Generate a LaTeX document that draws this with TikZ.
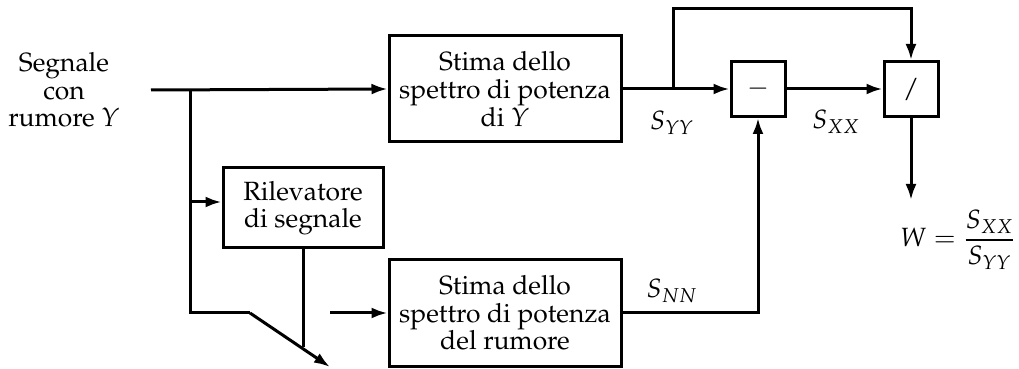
\documentclass[tikz,border=0pt]{standalone}
\usepackage[T1]{fontenc}
\usepackage{mathpazo}
\usetikzlibrary{arrows.meta}
\begin{document}
\begin{tikzpicture}[x=0.5pt,y=-0.5pt,
  every node/.style={font=\fontsize{13.2}{13.8}\selectfont},
  blk/.style={draw,line width=1.5pt,align=center,inner sep=0pt},
  lbl/.style={inner sep=0pt},
  conn/.style={line width=1.5pt},
  arr/.style={conn,-{Latex[length=8pt,width=5.5pt]}}]
\useasboundingbox (0,0) rectangle (1019,369);
\node[lbl,align=center] (in) at (64,90) {Segnale\\con\\rumore $Y$};
\node[blk,minimum width=116pt,minimum height=53pt] (b1) at (505,89) {Stima dello\\spettro di potenza\\di $Y$};
\node[blk,minimum width=27pt,minimum height=27.5pt] (mi) at (758,89) {$-$};
\node[blk,minimum width=27pt,minimum height=27.5pt] (dv) at (911,89) {$/$};
\node[blk,minimum width=80pt,minimum height=40pt] (det) at (303,208) {Rilevatore\\di segnale};
\node[blk,minimum width=116pt,minimum height=53pt] (b3) at (505,313) {Stima dello\\spettro di potenza\\del rumore};
\node[lbl] (syy) at (672,123) {$S_{YY}$};
\node[lbl] (sxx) at (836,122) {$S_{XX}$};
\node[lbl] (snn) at (672,291) {$S_{NN}$};
\node[lbl,anchor=east] (w) at (1016,240) {$W=\displaystyle\frac{S_{XX}}{S_{YY}}$};
\coordinate (s0) at (151,90);
\coordinate (j1) at (190,90);
\coordinate (j2) at (190,313);
\coordinate (sw0) at (250,313);
\coordinate (sw1) at (330,367);
\coordinate (dt) at (303,347);
\coordinate (n0) at (330,313);
\coordinate (t0) at (673,89);
\coordinate (wt) at (911,200);
\draw[arr] (s0) -- (b1.west);
\draw[conn] (j1) -- (j2) -- (sw0);
\draw[arr] (sw0) -- (sw1);
\draw[arr] (j1 |- det.west) ++(0,-6) coordinate (dj) -- (det.west |- dj);
\draw[conn] (det.south) -- (dt);
\draw[arr] (n0) -- (b3.west);
\draw[arr] (b1.east) -- (mi.west);
\draw[arr] (t0) -- (673,9) -| (dv.north);
\draw[arr] (mi.east) -- (dv.west);
\draw[arr] (dv.south) -- (wt);
\draw[arr] (b3.east) -| (mi.south);
\end{tikzpicture}
\end{document}
